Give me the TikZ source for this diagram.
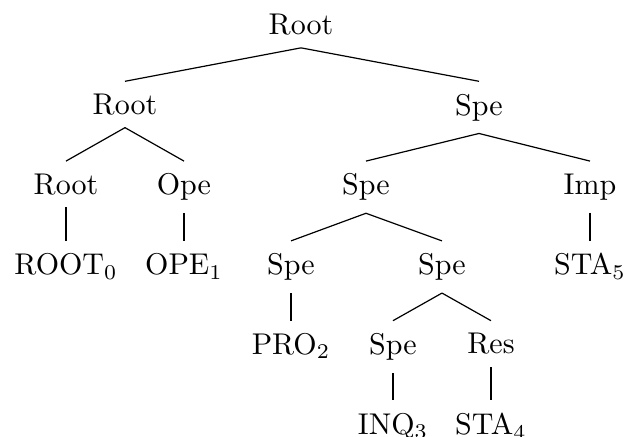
\documentclass[tikz,border=0pt]{standalone}
\begin{document}
\begin{tikzpicture}[x=0.33333pt,y=-0.33333pt,
  tn/.style={anchor=north,inner xsep=3.33pt,inner ysep=4pt},
  br/.style={line width=0.4pt}]
\useasboundingbox (0,0) rectangle (627,437);
\def\la{1.5}\def\lb{81.3}\def\lc{161.1}\def\ld{240.9}\def\le{320.7}\def\lf{400.5}
% level 0
\node[tn] (n0) at (301,\la) {Root};
% level 1
\node[tn] (n1) at (125,\lb) {Root};
\node[tn] (n2) at (479,\lb) {Spe};
% level 2
\node[tn] (n3) at (66,\lc) {Root};
\node[tn] (n4) at (184,\lc) {Ope};
\node[tn] (n5) at (366,\lc) {Spe};
\node[tn] (n6) at (590,\lc) {Imp};
% level 3
\node[tn] (n7) at (66,\ld) {ROOT$_0$};
\node[tn] (n8) at (184,\ld) {OPE$_1$};
\node[tn] (n9) at (291,\ld) {Spe};
\node[tn] (n10) at (442,\ld) {Spe};
\node[tn] (n11) at (590,\ld) {STA$_5$};
% level 4
\node[tn] (n12) at (291,\le) {PRO$_2$};
\node[tn] (n13) at (393,\le) {Spe};
\node[tn] (n14) at (491,\le) {Res};
% level 5
\node[tn] (n15) at (393,\lf) {INQ$_3$};
\node[tn] (n16) at (491,\lf) {STA$_4$};
% edges
\draw[br] (n0.south) -- (n1.north);
\draw[br] (n0.south) -- (n2.north);
\draw[br] (n1.south) -- (n3.north);
\draw[br] (n1.south) -- (n4.north);
\draw[br] (n2.south) -- (n5.north);
\draw[br] (n2.south) -- (n6.north);
\draw[br] (n3.south) -- (n7.north);
\draw[br] (n4.south) -- (n8.north);
\draw[br] (n5.south) -- (n9.north);
\draw[br] (n5.south) -- (n10.north);
\draw[br] (n6.south) -- (n11.north);
\draw[br] (n9.south) -- (n12.north);
\draw[br] (n10.south) -- (n13.north);
\draw[br] (n10.south) -- (n14.north);
\draw[br] (n13.south) -- (n15.north);
\draw[br] (n14.south) -- (n16.north);
\end{tikzpicture}
\end{document}
